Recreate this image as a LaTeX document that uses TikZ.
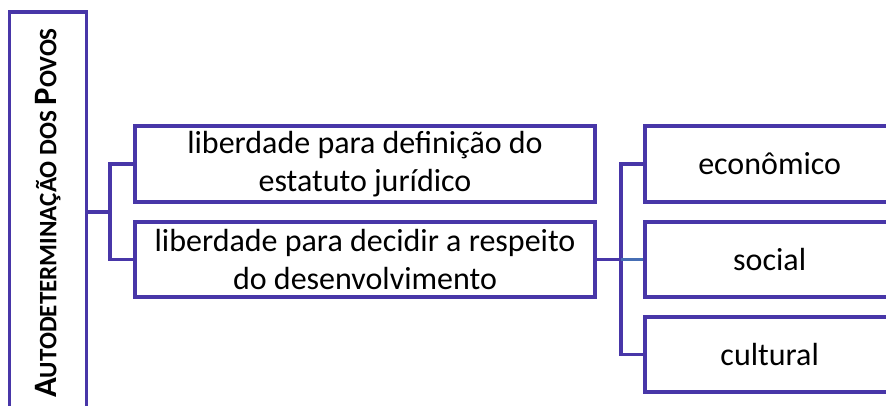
\documentclass[tikz,border=0pt]{standalone}
\usepackage{fontspec}
\setmainfont{Carlito}
\definecolor{edge}{RGB}{72,54,168}
\definecolor{edgeb}{RGB}{70,110,180}
\begin{document}
\begin{tikzpicture}[x=0.75pt,y=-0.75pt,
  box/.style={draw=edge,line width=2.6pt,fill=white,rectangle,inner sep=0pt,align=center,font=\fontsize{24}{28}\selectfont},
  conn/.style={draw=edge,line width=2.6pt},
  connb/.style={draw=edgeb,line width=1.8pt}]
\useasboundingbox (0,0) rectangle (886,405);
\clip (0,0) rectangle (886,405);
\node[box,minimum width=77*0.75pt,minimum height=410*0.75pt] (L) at (48,217) {};
\node[rotate=90,font=\bfseries] (Lt) at (48,213) {{\fontsize{24.5}{28}\selectfont A}{\fontsize{18.8}{22}\selectfont UTODETERMINAÇÃO DOS }{\fontsize{24.5}{28}\selectfont P}{\fontsize{18.8}{22}\selectfont OVOS}};
\node[box,minimum width=460*0.75pt,minimum height=76*0.75pt] (a) at (365,164) {liberdade para definição do\\estatuto jurídico};
\node[box,minimum width=460*0.75pt,minimum height=75*0.75pt] (b) at (365,259.5) {liberdade para decidir a respeito\\do desenvolvimento};
\node[box,minimum width=260*0.75pt,minimum height=76*0.75pt] (r1) at (775,164) {\hspace*{-8pt}econômico};
\node[box,minimum width=260*0.75pt,minimum height=75*0.75pt] (r2) at (775,259.5) {\hspace*{-8pt}social};
\node[box,minimum width=260*0.75pt,minimum height=75*0.75pt] (r3) at (775,354.5) {\hspace*{-8pt}cultural};
\coordinate (j1) at (110,212);
\coordinate (j2) at (621,259.5);
\draw[conn] (L.east|-j1) -- (j1);
\draw[conn] (a.west) -| (j1) |- (b.west);
\draw[conn] (b.east) -- (j2);
\draw[conn] (r1.west) -| (j2) |- (r3.west);
\draw[connb] (j2) -- (r2.west);
\end{tikzpicture}
\end{document}
